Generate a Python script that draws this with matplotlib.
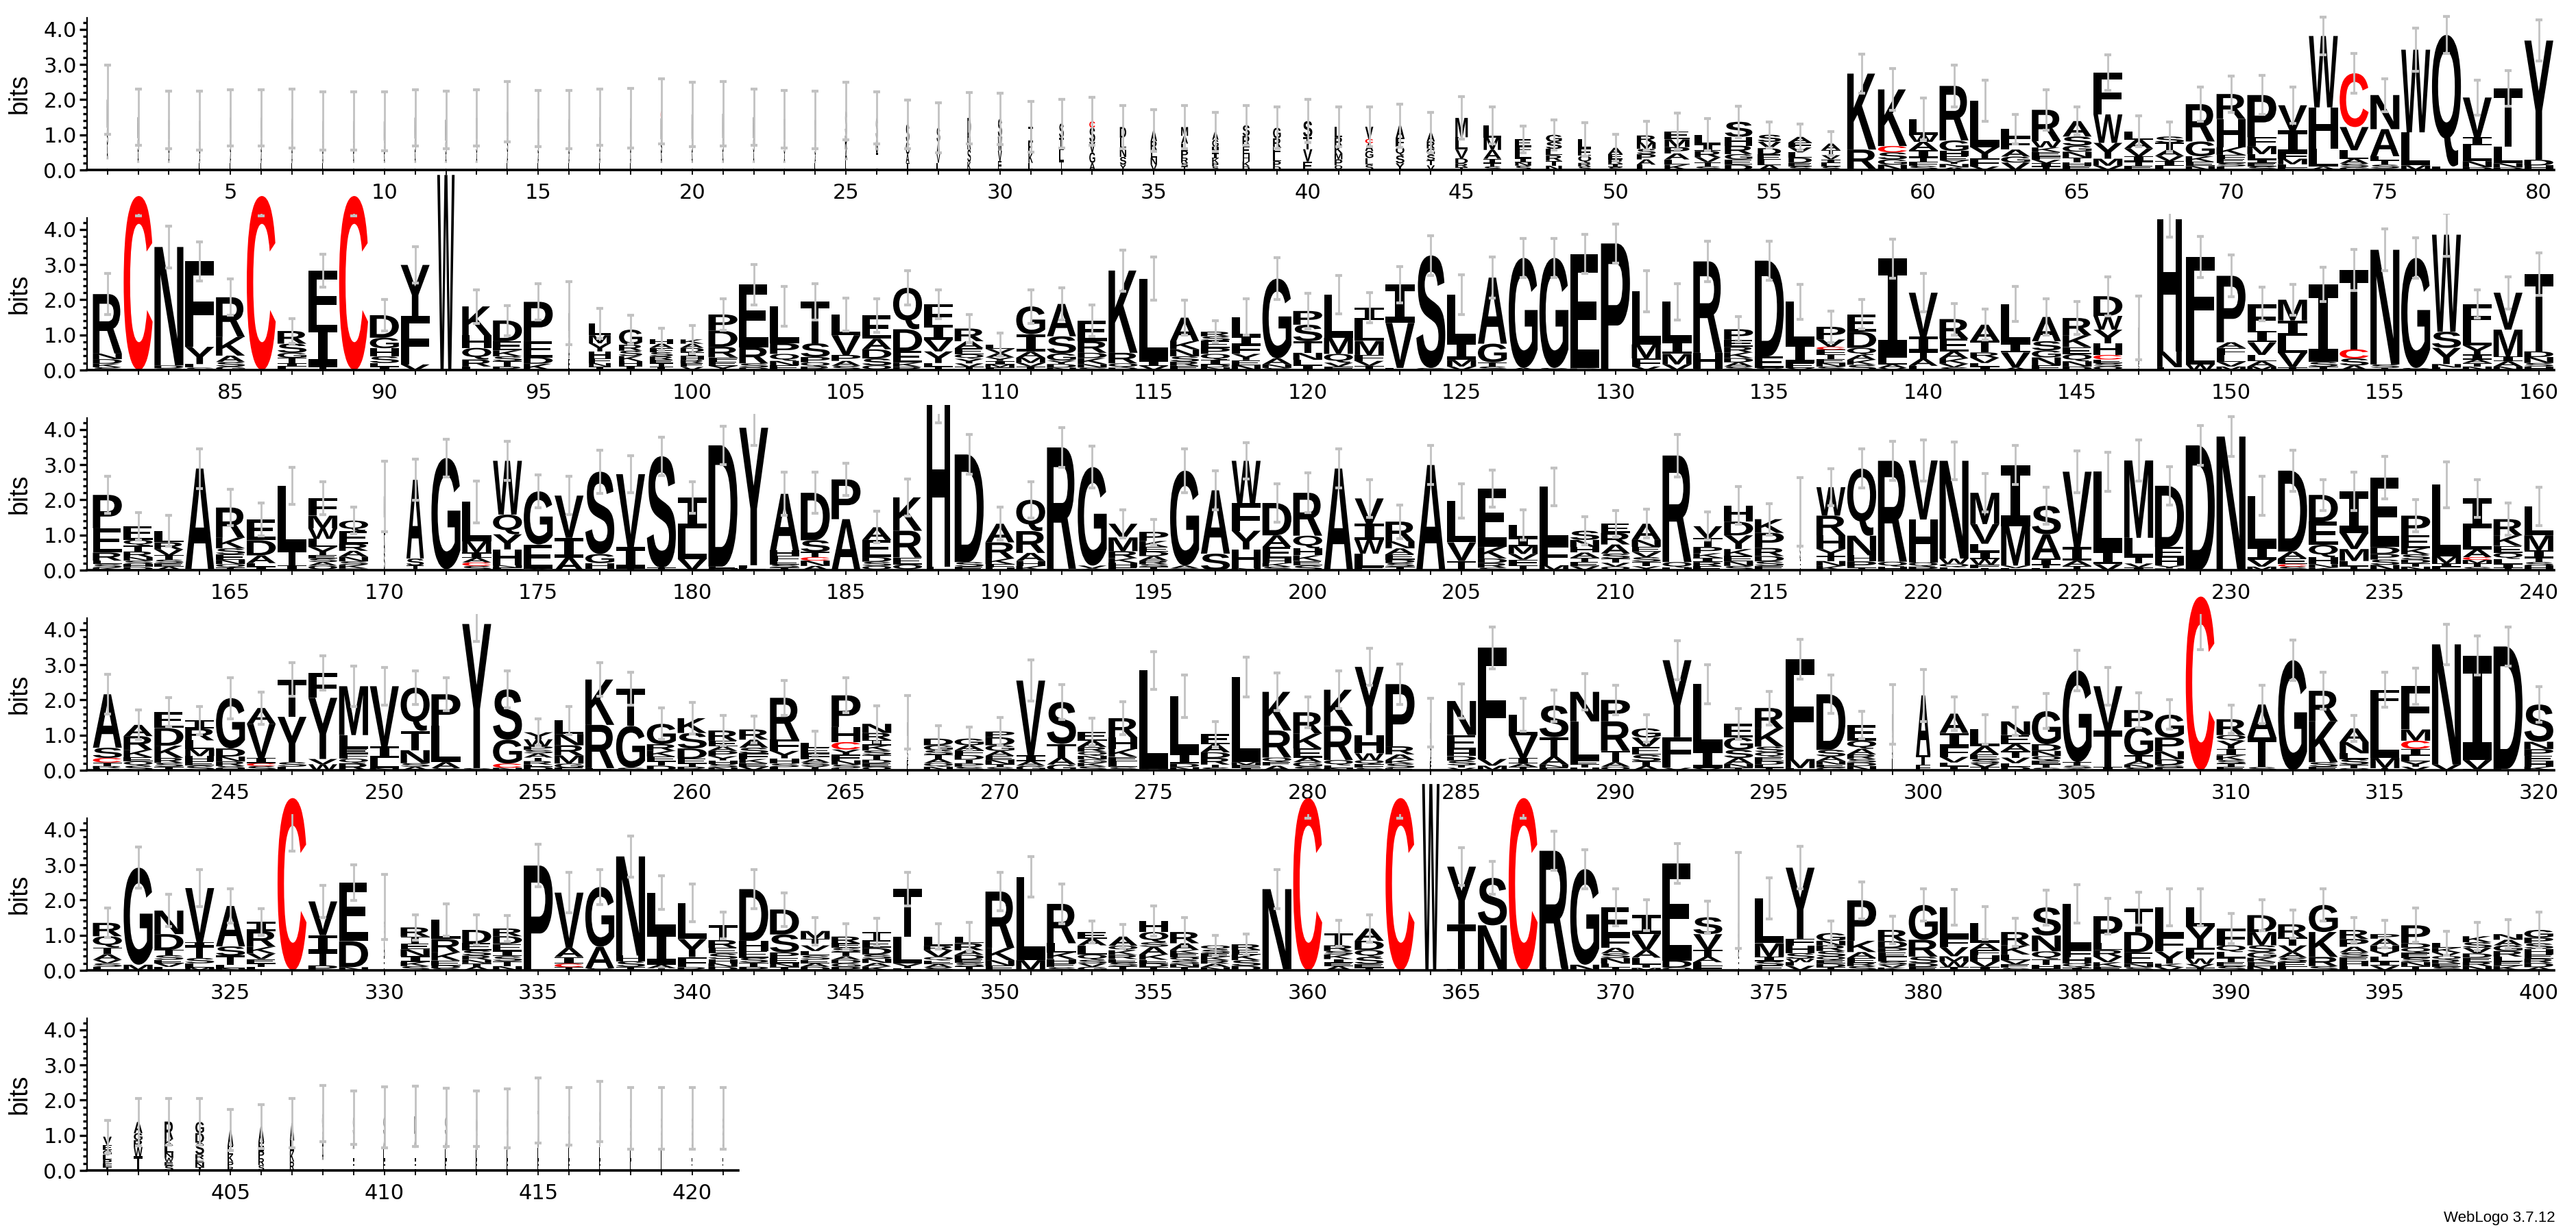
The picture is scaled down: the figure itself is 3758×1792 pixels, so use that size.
import matplotlib
matplotlib.use("Agg")
import matplotlib.pyplot as plt
from matplotlib.textpath import TextPath
from matplotlib.patches import PathPatch
from matplotlib.font_manager import FontProperties
from matplotlib.transforms import Affine2D
from matplotlib.ticker import FixedLocator, FixedFormatter

# Each stack: letters from top to bottom with their heights in bits.
STACKS_1 = [
"M.8 S.5 A.4 L.3", "M.6 S.4 A.3 L.2", "M.55 S.4 A.27 L.2", "M.55 S.4 A.25 L.2", "M.6 S.4 A.29 L.2",
"M.6 S.4 A.29 L.2", "M.6 S.4 A.26 L.2", "M.55 S.4 A.24 L.2", "M.55 S.4 A.24 L.2", "M.55 S.4 A.23 L.2",
"M.6 S.4 A.29 L.2", "M.6 S.4 A.23 L.2", "M.6 S.4 A.28 L.2", "M.7 S.45 A.3 L.2", "M.6 S.4 A.26 L.2",
"M.6 S.4 A.24 L.2", "M.6 S.4 A.3 L.2", "M.6 S.4 A.27 L.2", "C.2 M.6 S.4 A.27 L.2", "M.7 S.4 A.28 L.2",
"M.7 S.4 A.3 L.2", "M.6 S.4 A.3 L.2", "M.6 S.4 A.25 L.2", "M.6 S.4 A.22 L.2", "S.7 R.4 A.3 L.28",
"S.6 G.4 T.28 L.2", "S.5 G.35 A.25 T.2", "S.4 A.35 V.25 L.2", "D.5 R.4 S.35 K.23", "S.5 W.4 V.3 E.25",
"T.4 E.35 K.28 L.2", "S.4 I.35 L.32 T.25", "C.18 S.4 V.3 G.3 A.2", "D.3 L.3 N.25 S.22 Y.15", "A.3 R.25 L.22 N.2 V.15",
"M.25 A.22 L.2 P.2 R.15 S.1 T.1", "A.22 G.2 H.18 I.15 K.13 P.1 S.1", "S.3 R.28 E.25 H.2 K.14 D.1",
"G.3 R.25 F.22 L.18 P.15 D.1", "S.45 T.35 V.35 E.24",
"L.3 R.25 K.2 M.18 P.17 Q.13", "V.35 C.12 A.22 G.2 L.19 S.15", "A.35 F.25 Q.25 S.22 Y.19",
"A.25 R.2 G.18 S.16 T.14 V.13", "M.55 L.35 V.25 D.15 R.1 T.08", "L.35 M.35 A.25 I.12 T.1 S.1",
"E.2 F.18 L.15 I.12 N.1 S.12", "G.2 S.2 L.18 R.16 T.14 N.12", "L.25 E.22 Q.2 R.1 S.1", "A.18 E.15 R.12 I.1 S.08",
"R.2 M.18 S.15 P.15 A.15 L.15", "E.23 M.22 P.18 A.17 L.15 K.15", "L.26 I.2 R.18 V.14 T.12 S.1",
"S.43 H.25 R.24 G.15 E.15 D.15", "S.2 V.18 D.18 E.15 L.15 A.14", "A.16 F.14 V.14 L.15 D.15 E.1 S.1",
"A.18 T.15 V.12 I.1 L.1 S.1", "K2.16 R.55 S.03", "K1.61 C.18 S.2 G.15 N.15", "L.45 W.2 A.24 I.2 T.12 F.12 S.12",
"R1.55 G.3 H.15 E.12 Y.1 N.1 A.07", "L1.32 Y.32 F.23 V.1", "L.23 F.35 A.2 G.17 V.21",
"R.89 W.18 K.13 E.12 F.1 V.1 I.1 T.09", "A.44 S.26 G.17 N.17 T.13 H.1 E.12", "F1.19 W.81 Y.45 M.2 V.12",
"L.24 A.25 V.22 I.15 T.12 E.12", "S.18 T.2 A.17 V.15 I.13 L.12", "R1.06 G.42 K.16 E.12 N.11",
"R.71 H.8 K.22 F.12 E.11 S.1 L.1", "P1.2 F.25 M.23 L.15 I.1 E.1 S.1", "V.71 I.65 F.16 M.16 L.1 E.06",
"W2.03 H1.17 L.52 A.09", "C1.53 V.66 L.24 A.14 S.1 G.08", "N.97 A.77 L.12 T.12 S.1 G.05",
"W2.35 L.94 M.13", "Q3.74 L.1", "V1.13 I.23 L.45 N.17 D.08", "T1.65 L.48 N.12 D.07", "Y3.39 D.16 H.13",
]
STACKS_2 = [
"R1.69 N.16 D.13 K.1 S.08", "C4.95", "N3.37 D.08 S.05", "F2.43 Y.49 L.1 S.07", "R1.13 K.53 A.18 S.13 G.1",
"C4.95", "R.36 S.26 G.14 T.15 I.1 L.1", "F1.55 I1.18 T.1", "C4.95", "D.64 G.3 H.23 S.19 L.1 I.1",
"Y1.45 F1.38 V.16", "W5.55", "K.82 H.36 Q.33 R.2 L.1", "D.59 E.26 K.17 S.14 T.15 R.1", "P1.12 E.46 D.18 K.18",
"L.5 S.4 A.4 E.32", "L.33 M.23 Y.23 H.2 F.13 N.1 I.1", "G.43 R.17 S.15 K.15 H.13 I.12",
"H.12 A.12 F.12 S.12 R.1 E.1 T.1 I.09", "K.12 A.12 D.12 I.12 H.1 R.1 E.1 V.09",
"P.46 D.46 R.3 F.12 E.12 Y.12", "E1.78 R.46 S.12 D.07", "L1.05 P.3 Q.2 N.13 E.13", "T1.18 S.39 P.15 Q.12 R.1",
"L.59 V.56 P.17 A.14 S.12", "E.66 A.3 D.26 S.2 Q.13", "Q1.18 D.62 E.33 K.12 R.09", "F.59 I.43 V.33 Y.33 L.1 T.1",
"R.36 A.2 E.17 Q.13 Y.13 V.1 T.09", "L.12 V.12 A.12 Y.1 I.1 M.08 F.08",
"G.79 I.5 A.17 M.15 V.1 T.1", "A.92 S.49 G.2 Y.1 D.1 N.07", "E.59 R.33 D.15 K.17 N.1 S.07", "K2.34 R.3 Q.12 D.07",
"L2.34 I.14 V.12", "A.67 K.23 N.2 S.15 R.12 E.12", "R.13 S.13 E.2 P.17 Q.17 I.13 D.08 N.08",
"L.56 I.23 F.26 Y.18 E.14 N.14", "G2.27 A.17 N.1 S.06", "P.39 S.47 T.33 N.2 L.15 I.14",
"L1.22 M.46 Q.25 V.11 F.1", "I.36 L.59 M.4 F.17 V.14 T.12", "I1.09 V1.28 L.06", "S3.2 G.06", "L1.32 I.53 M.19 V.1",
"A1.88 G.53 T.12 S.1", "G3.13 A.06", "G3.13 S.06", "E3.25 D.05", "P3.6",
"L1.51 M.4 F.23 V.1", "L1.12 I.36 M.3 V.16", "R2.6 H.45 Q.04", "P.3 E.2 R.16 K.16 D.12 A.12 S.1", "D2.72 E.33 S.06",
"L1.18 I.56 E.14 V.06", "P.36 V.21 C.08 F.14 T.12 E.12 N.1 S.1", "E.49 D.46 Q.2 A.14 K.14 S.15",
"I2.81 L.2 A.1 V.06", "V1.25 I.43 T.2 A.2 L.12",
"R.56 E.36 A.2 K.15 V.1 S.08", "A.46 T.33 R.15 V.15 L.1 I.1", "L1.12 I.26 V.43 A.07", "A.69 S.26 G.2 N.23 E.13",
"R.49 K.34 E.2 Q.2 N.15 D.1", "D.56 W.39 Y.39 H.33 C.13 E.1 S.1 Q.1", "L.4 E.35 N.25 S.2", "H3.75 N.45 L.08",
"F2.4 L.66 W.16", "P1.89 A.16 F.2 L.2 V.13 M.1",
"F.76 I.33 V.36 L.18 A.15 M.1", "M.59 I.43 L.49 V.41 T.08", "I2.2 S.13 T.1", "T2.26 C.26 S.2 A.13", "N3.26 S.1 T.06",
"G3.13 S.06", "W2.76 S.46 Y.46 N.1 L.07", "F.72 L.46 Y.26 I.14 A.1 T.1 N.1", "V1.05 M.76 I.14 A.15 N.1",
"T2.2 D.16 N.17 S.1 H.1",
]
STACKS_3 = [
"P.95 E.69 R.23 L.1 S.1 K.07", "E.39 Q.16 T.17 R.16 N.1 S.1 H.08 D.09", "L.33 R.2 V.17 T.12 S.1 E.1 A.1", "A2.86 S.03",
"R.86 K.3 S.17 E.16 N.12 Q.1 T.07", "E.6 D.43 A.22 L.1 I.1", "L1.81 T.46 I.13", "F.49 M.36 W.3 L.23 Y.23 E.1 S.1 A.1 Q.13",
"Q.3 E.36 R.2 A.17 N.13 S.1 K.1 D.05", "M.6 L.5 A.5 S.5",
"A2.24 S.2 T.13", "G3.16 A.03", "L1.12 M.32 I.15 A.13 C.1 S.12", "W1.53 Q.56 Y.43 H.45 N.07 F.07", "G1.51 E.69 A.04",
"V1.2 I.56 A.36", "S2.34 G.26 H.16 A.04", "V2.07 I.62 T.04", "S3.17 T.07", "I.89 L.86 V.32",
"D3.45 E.06 N.04", "Y3.91 F.08 E.06", "A1.61 H.15 F.15 E.1 S.08 T.08", "D1.35 S.33 T.15 C.1 N.15 A.12", "P1.13 A1.45",
"A.36 E.49 D.13 S.12 Q.12", "K.95 R.76 E.2 Q.16", "H4.6 F.05 L.05", "D3.06 S.13 E.1", "A.53 R.46 K.16 F.1 H.07",
"Q.89 R.62 A.23 H.14 K.12", "R3.45 L.04", "G2.8 V.08 A.05", "V.39 M.39 R.2 K.13 H.13 E.08",
"P.26 K.17 E.13 D.13 A.13 R.1 S.08 T.09", "G2.7 A.08 S.05", "A1.8 S.47", "W1.2 F.79 Y.53 H.53 N.06",
"D.92 A.33 E.33 H.13 K.1 S.1", "R1.22 Q.36 H.2 K.16 E.13 S.13",
"A2.89", "V.72 I.46 W.39 L.39 E.08", "R.56 N.2 A.17 E.15 D.1 S.1 T.1", "A2.99", "L1.18 V.53 T.23 I.03",
"E1.66 K.33 D.13 R.13 S.07", "L.36 I.23 M.23 V.16 F.16 T.14", "L1.64 F.59 M.14", "S.26 N.2 H.16 A.15 T.12 E.12 V.11",
"E.26 R.33 A.26 S.14 T.12 V.11 Q.1",
"A.46 N.2 E.14 V.15 S.13 T.13 Y.11", "R3.03 Q.16 H.07", "V.33 T.26 P.18 K.13 I.12 R.12 E.11",
"H.46 D.39 Y.39 K.2 E.15 N.13 S.12", "K.39 P.43 R.23 D.15 S.13 E.12", "L.5 A.45 S.4 E.31",
"W.81 R.56 H.39 Y.2 T.14 N.14 K.12", "Q1.91 N.56 H.17 P.17 T.08", "R2.87 Q.14 H.1", "V1.68 H1.22 Q.12 P.1",
"N2.78 W.15 Q.1 L.08", "M.89 V.56 L.23 I.2 W.16 F.1 T.06", "I1.74 M1.12 V.07 L.06", "S.81 A.69 I.18 T.1 L.05",
"V2.14 I.39 A.15 T.12", "L2.24 I.39 V.17", "M2.2 L.53 T.2 V.11 I.08", "D1.74 E.3 H.23 Y.08 N.05", "D3.55", "N3.77 H.03",
"L1.45 I.36 V.2 M.1", "D2.3 A.2 E.16 C.07 S.1", "D.76 E.66 Q.35 H.2 N.1 K.07", "I1.18 V.46 M.34 L.14 T.12",
"E1.97 D.2 P.16 S.15 N.15", "P.56 E.36 K.18 S.15 D.1 T.1 N.1", "L2.04 M.2 I.1 F.09", "I.86 L.59 A.22 C.08 M.1 T.1 S.09",
"R.46 K.3 E.2 Q.17 L.15 I.1 T.07", "L.82 M.43 I.2 T.13 S.1 H.13",
]
STACKS_4 = [
"A1.52 S.29 C.13 T.1 R.06 E.06", "A.32 R.39 K.21 E.12 Q.12 S.13", "E.46 D.5 K.35 R.14 S.11 T.1",
"I.23 R.34 L.24 M.21 H.15 E.12 S.13", "G1.43 D.23 N.14 R.13 S.07 H.05", "A.45 V.97 I.15 C.08 S.12",
"T1.06 Y1.29 S.13 L.1", "F.71 Y1.74 V.15 W.17", "M1.39 L.39 E.13 F.15 Q.13 R.2", "V1.71 I.32 L.3 N.06",
"Q1.23 T.55 N.37 S.1 A.1", "P.9 L1.03 A.17 S.06", "Y4.1 S.06", "S1.43 G.68 C.12 N.07",
"Y.2 W.2 P.1 S.1 A.12 T.1 R.1 L.06 D.1", "L.39 N.32 R.29 M.23 G.12 E.07", "K1.29 R1.23 E.06", "T1.06 G1.19 S.07",
"G.58 R.19 K.16 E.13 T.13 D.13", "K.42 S.44 D.29 E.13 T.1 R.1",
"R.29 E.16 A.13 P.15 Y.12 H.1 S.1 N.08", "R.29 A.23 S.16 F.16 K.12 E.1 V.1", "R1.19 F.32 Y.21 H.15 S.1 L.09",
"L.13 E.16 F.16 A.1 S.1 Y.06 T.06", "P.9 H.43 C.21 Y.15 F.16 N.12 S.1 E.06", "N.26 R.2 I.15 K.15 S.13 T.13 D.1 E.1 Q.1",
"L.4 A.35 S.32 E.3", "D.19 G.14 S.13 T.12 A.12 Q.1 N.1", "G.19 A.14 F.14 D.13 T.1 P.1 S.1",
"P.16 D.23 G.16 A.14 E.12 N.12 T.08 S.09",
"V2.13 I.16 A.13 G.13", "S1.19 T.39 A.2 G.16", "E.26 A.18 R.13 Q.12 N.1 G.1 K.1 S.11", "R.55 H.32 K.23 E.13 L.16 S.09",
"L2.81 M.03", "L1.63 I.29 D.1 N.09", "E.29 A.23 D.16 R.19 T.08 S.08", "L2.42 M.08 F.08 I.07", "K1.1 R.77 Q.13 E.1 A.13",
"R.61 K.42 E.26 A.13 G.13 S.1",
"K1.03 R.97 Q.15 E.08 N.06", "Y1.94 H.52 W.19 Q.12 F.1 S.07", "P1.77 R.23 A.16 K.1 S.13 E.06", "L.45 S.35 A.3 E.25",
"N.97 E.42 H.18 D.13 S.13 T.07 V.07", "F3.16 V.19 M.13", "L.58 V.65 I.16 A.1 T.09", "S.9 T.55 A.23 N.08 E.08",
"N.84 L1.13 E.1 T.08 H.08", "P.61 R.84 T.32 A.13 Q.1",
"G.26 V.26 E.23 S.19 T.13 A.12", "Y2.19 F.77 L.1 V.07", "L1.87 I.52 V.06", "E.39 G.35 S.23 A.17 N.1 T.08",
"R.58 K.52 S.16 Q.13 E.12 D.1 L.08 T.08", "F2.84 M.26 L.06", "D1.58 S.19 A.13 N.1 E.08 G.08",
"E.45 Q.23 A.16 R.13 S.1 D.1 N.12", "L.45 S.4 A.4 E.34", "A1.71 T.26 F.16",
"A.55 I.39 F.29 V.16 L.1 T.12", "L.48 A.23 E.14 S.12 V.1 T.09", "N.39 E.26 A.2 T.18 V.16 L.1 D.1",
"G.94 D.19 N.15 Q.13 E.1 T.1 S.07", "G2.61 T.1 S.08 A.05", "V1.26 T1.03 I.1", "P.48 G.81 T.16 A.1 N.08 S.08",
"G.65 P.39 N.23 D.16 S.08 E.07", "C4.94", "R.45 Q.16 Y.23 I.19 K.13 S.1 T.09 E.1",
"A.94 T.84 S.09", "G3.13", "R.87 K1.16 S.13 E.1", "A.39 N.32 L.16 S.16 T.1 Q.06", "F.52 L1.42 M.29 T.06",
"F1.23 M.32 C.23 I.2 L.16 Y.15 V.1", "N3.42 V.16", "I2.97 V.26 L.03", "D3.48 E.04", "S1.06 N.21 P.19 E.16 H.15 K.1",
]
STACKS_5 = [
"R.38 Q.32 T.19 A.16 V.1 S.1 L.1", "G2.76 M.16", "N.67 D.45 T.15 S.13 E.1 V.1 L.1", "V1.54 I.1 T.35 S.15 L.12 M.08",
"A1.15 S.26 T.26 L.1 N.06", "I.26 R.45 K.19 V.16 E.12 T.1 L.1", "C4.9", "V.96 I.48 T.38 P.14", "E1.67 D.74 N.09",
"L.5 S.45 A.45 E.4",
"R.26 T.2 E.16 N.2 I.16 K.12 S.12", "L.55 R.38 K.23 E.14 D.08 S.06", "D.38 E.2 S.15 R.12 N.1 T.1 A.1",
"R.22 D.22 E.2 I.15 S.14 T.14 N.12", "P2.98", "V1.57 A.26 I.19 C.1 T.09", "G1.7 A.61 S.06", "N2.82 H.16 S.16 T.1",
"L1.09 I.96 A.1 T.06", "L1.03 Y.51 F.29 R.09",
"T.42 R.22 E.16 S.16 H.12 N.1 D.1", "D1.47 H.29 E.19 S.14 T.12 P.1", "D.71 S.51 P.16 E.15 N.1 T.1",
"M.22 T.19 V.16 L.13 S.12 E.1 A.1 D.1", "R.19 E.13 S.12 T.12 A.1 D.1 G.1 P.1", "T.24 E.22 D.19 S.12 N.12 A.1 K.11",
"T1.35 L.77 Y.13 F.06", "L.26 R.13 V.19 Q.1 E.1 A.1 S.08", "L.19 R.2 A.13 D.13 E.1 S.1 T.11", "R1.6 K.35 N.16 E.13",
"L2.37 M.29", "R1.12 L.26 K.19 H.13 E.1 S.09", "E.19 A.19 L.26 Q.15 S.1 V.1 G.1", "A.26 Q.13 K.13 R.12 E.1 S.1 T.12",
"H.32 Q.29 S.13 A.22 K.15 E.1 D.1 T.1", "R.32 A.19 K.1 E.1 Q.1 S.1 N.08 T.1", "Q.12 S.1 E.1 K.1 R.1 A.1 N.09",
"R.16 E.13 K.16 S.16 D.13", "N2.28 R.03", "C4.9",
"T.35 R.16 S.1 K.13 I.1 E.1 A.12", "A.35 D.26 Q.2 S.2 E.1 T.08", "C4.9", "W5.3", "Y1.64 T1.28 L.03",
"S1.35 N1.28", "C4.9", "R3.33 H.07", "G2.72 N.16", "E.83 F.32 A.16 S.13 N.16 L.1 T.09",
"I.54 V.45 A.22 L.19 T.1 M.07", "E2.76 D.2 Q.08", "S.48 V.45 T.19 A.16 L.1 F.13", "L.6 S.5 A.5 E.39",
"L1.28 M.38 I.13 S.13 E.13", "Y2.02 F.19 H.22 S.16 W.1 L.1 V.13", "G.22 N.13 R.16 S.16 Q.1 E.1 D.1 T.09",
"P1.15 K.32 A.17 E.13 R.1 S.12", "R.32 D.19 P.13 E.13 L.12 S.1 V.08 K.08", "G.99 R.48 S.19 D.1 E.1",
"L.87 F.26 V.26 M.15 W.15 T.1", "L.58 A.19 F.16 H.16 V.16 I.1", "R.38 K.26 L.16 V.12 E.1 S.07",
"S.8 N.45 Q.22 T.17 H.1 I.05", "L1.31 F.21 H.17 Q.12 I.08", "P.77 L.19 R.19 V.16 K.13 E.1", "T.67 D.58 E.32 N.1 S.09",
"L.83 F.42 Y.35 K.1 V.09", "L.54 Y.61 F.3 W.16 V.1 T.08", "F.48 Q.19 L.16 T.12 E.12 S.12",
"D.48 M.38 S.19 G.16 K.12 E.12 N.12", "R.38 T.22 V.19 A.16 S.13 E.13 L.1", "G.77 K.71 R.26 S.12",
"R.26 P.22 A.16 S.13 E.13 H.13 L.12", "P.13 A.19 H.16 Y.16 L.13 I.13 V.13", "P.51 D.13 Q.14 E.14 S.12 N.12 T.12",
"L.13 K.13 V.1 Q.11 R.1 E.1 S.1", "K.17 S.16 V.16 D.12 E.12 R.12 N.12", "N.16 A.16 G.16 R.16 L.13 E.13 K.13",
"G.22 P.16 S.16 H.16 E.12 R.12 D.12 A.09",
]
STACKS_6 = [
"V.23 E.15 G.14 L.13 P.12 F.1 T.09", "A.32 G.2 R.2 W.26 T.4", "R.5 K.18 L.2 N.15 W.12 E.1 S.14",
"G.32 D.27 S.33 R.14 E.1 N.12 T.1", "A.45 E.25 K.2 P.15 R.1", "A.45 E.25 P.2 R.2 S.15", "A.5 L.3 K.3 R.25",
"Q.5 S.45 A.36 L.3", "S.5 A.4 L.31 E.3", "S.5 A.4 L.31 E.3", "D.5 A.4 L.34 E.3", "S.5 A.4 L.31 E.3",
"Q.5 A.4 L.28 E.3", "S.5 A.4 L.28 E.3", "T.6 A.45 L.35 E.3", "D.5 A.4 L.34 E.3", "S.55 A.45 L.37 E.3",
"S.5 A.4 L.28 E.3", "S.5 A.4 L.28 E.3", "S.5 A.4 L.28 E.3", "S.5 A.4 L.28 E.3",
]

# Error bar half-lengths (bits)
ERR_1 = [.98, .8, .82, .84, .8, .8, .84, .83, .83, .84, .8, .82, .8, .86, .8, .83, .8, .84, .92, .92,
         .92, .8, .82, .82, .82, .74, .69, .72, .73, .73, .72, .69, .68, .62, .6, .61, .55, .57, .6, .61,
         .57, .56, .62, .57, .6, .53, .38, .43, .48, .38, .41, .51, .46, .45, .37, .37, .35, .55, .6, .59,
         .59, .58, .41, .57, .4, .5, .44, .42, .48, .52, .56, .52, .53, .56, .47, .61, .52, .5, .51, .59]
ERR_2 = [.58, .56, .6, .56, .52, .56, .35, .47, .56, .44, .51, .6, .48, .43, .52, .9, .43, .4, .31, .4,
         .44, .57, .56, .51, .46, .47, .49, .41, .4, .33, .48, .46, .45, .58, .61, .49, .32, .51, .6, .51,
         .55, .43, .52, .57, .56, .58, .56, .55, .56, .56, .58, .52, .58, .37, .56, .5, .45, .42, .56, .55,
         .45, .44, .5, .52, .47, .56, .9, .5, .58, .6, .48, .44, .49, .58, .59, .58, .61, .4, .46, .61]
ERR_3 = [.53, .39, .43, .57, .52, .47, .53, .47, .38, 1.0, .59, .54, .59, .56, .47, .55, .61, .53, .55, .45,
         .55, .5, .62, .58, .46, .45, .53, .5, .56, .47, .52, .56, .6, .4, .36, .62, .56, .52, .54, .56,
         .56, .54, .48, .56, .48, .53, .43, .54, .4, .38, .41, .6, .4, .53, .45, .98, .53, .56, .56, .58,
         .54, .55, .55, .53, .6, .55, .59, .55, .56, .56, .56, .59, .44, .55, .6, .46, .65, .53, .46, .55]
ERR_4 = [.56, .42, .41, .4, .58, .46, .48, .49, .58, .53, .48, .47, .5, .52, .38, .4, .48, .46, .45, .45,
         .43, .38, .5, .35, .5, .52, .76, .36, .33, .4, .58, .49, .39, .46, .54, .6, .36, .56, .53, .44,
         .53, .53, .57, .69, .48, .6, .46, .45, .52, .42, .39, .55, .55, .44, .48, .57, .55, .39, .84, .74,
         .48, .42, .4, .5, .58, .54, .5, .42, 1.5, .4, .55, .57, .53, .37, .5, .51, .57, .56, .55, .5]
ERR_5 = [.42, .58, .46, .53, .48, .38, 1.5, .46, .51, .92, .36, .46, .42, .37, .61, .58, .5, .58, .48, .53,
         .38, .56, .48, .39, .36, .39, .48, .36, .4, .55, .58, .56, .32, .34, .43, .41, .29, .3, .56, .57,
         .37, .39, .57, .5, .54, .47, .57, .55, .56, .52, .43, .56, .45, 1.36, .58, .61, .35, .53, .39, .46,
         .51, .47, .4, .5, .55, .5, .47, .52, .52, .43, .43, .4, .45, .36, .39, .49, .35, .4, .41, .51]
ERR_6 = [.47, .67, .66, .66, .59, .63, .7, .8, .76, .86, .85, .83, .79, .84, .93, .82, .86, .88, .88, .88, .88]

# Stack widths (fraction of a column) where sequences are mostly gaps; others are 1.0
NARROW_WIDTHS = {
    1: .04, 2: .04, 3: .04, 4: .04, 5: .04, 6: .04, 7: .04, 8: .04, 9: .04, 10: .04, 11: .04, 12: .04,
    13: .04, 14: .04, 15: .04, 16: .04, 17: .04, 18: .04, 19: .05, 20: .04, 21: .04, 22: .04, 23: .04, 24: .04,
    25: .07, 26: .07, 27: .12, 28: .12, 29: .12, 30: .14, 31: .15, 32: .16, 33: .2, 34: .22, 35: .22, 36: .24,
    37: .22, 38: .25, 39: .27, 40: .32, 41: .27, 42: .28, 43: .3, 44: .28, 45: .43, 46: .6, 47: .55, 48: .55,
    49: .45, 50: .5, 51: .65, 52: .86, 53: .9, 54: .95, 55: .8, 56: .8, 57: .65,
    92: .6, 96: .04, 97: .75, 98: .8, 99: .8, 100: .8, 147: .04, 148: .85,
    170: .04, 171: .6, 188: .8, 216: .03,
    267: .03, 284: .04, 299: .03, 300: .5,
    330: .03, 364: .6, 374: .03,
    401: .3, 402: .3, 403: .3, 404: .3, 405: .2, 406: .2, 407: .15, 408: .05, 409: .05, 410: .06, 411: .05,
    412: .05, 413: .05, 414: .04, 415: .04, 416: .04, 417: .03, 418: .03, 419: .03, 420: .03, 421: .03,
}

ROW_STARTS = [1, 81, 161, 241, 321, 401]
ROWS = [STACKS_1, STACKS_2, STACKS_3, STACKS_4, STACKS_5, STACKS_6]
ERRS = [ERR_1, ERR_2, ERR_3, ERR_4, ERR_5, ERR_6]
Y_TICKS = [0, 1, 2, 3, 4]
Y_TICK_LABELS = ["0.0", "1.0", "2.0", "3.0", "4.0"]

# ---------------- layout ----------------
W, H = 3758, 1792
fig = plt.figure(figsize=(W / 100, H / 100), dpi=100)
fig.patch.set_facecolor("white")

PX_BIT = 51.3
PX_POS = 44.9
YTOP = 4.45
AX_LEFT = 127
BASE0 = 248
ROW_STEP = 292

TICK_FONT = ["Liberation Sans Narrow", "DejaVu Sans"]
fp_letter = FontProperties(family="Liberation Sans", weight="bold")
fp_i = FontProperties(family="DejaVu Sans Mono", weight="bold")
_cache = {}


def glyph(ch):
    if ch not in _cache:
        tp = TextPath((0, 0), ch, size=100, prop=fp_i if ch == "I" else fp_letter)
        _cache[ch] = (tp, tp.get_extents())
    return _cache[ch]


def draw_letter(ax, ch, xc, y0, w, h):
    if h <= 0:
        return
    tp, bb = glyph(ch)
    tr = (Affine2D().translate(-bb.x0, -bb.y0).scale(w / bb.width, h / bb.height)
          .translate(xc - w / 2, y0) + ax.transData)
    col = "#ff0000" if ch == "C" else "#000000"
    ax.add_patch(PathPatch(tp, transform=tr, facecolor=col, edgecolor="none", lw=0, clip_on=False, zorder=2))


for r, (start, stacks, errs) in enumerate(zip(ROW_STARTS, ROWS, ERRS)):
    n = len(stacks)
    baseline = BASE0 + ROW_STEP * r
    x0 = start - 0.66
    x1 = start + n - 0.5
    wpx = (x1 - x0) * PX_POS
    hpx = YTOP * PX_BIT
    ax = fig.add_axes([AX_LEFT / W, 1 - baseline / H, wpx / W, hpx / H])
    ax.set_autoscale_on(False)
    ax.set_xlim(x0, x1)
    ax.set_ylim(0, YTOP)
    ax.patch.set_alpha(0)

    xs, tops = [], []
    for i, spec in enumerate(stacks):
        pos = start + i
        width = NARROW_WIDTHS.get(pos, 1.0) * 0.94
        items = [(t[0], float(t[1:])) for t in spec.split()]
        y = 0.0
        for ch, h in reversed(items):
            draw_letter(ax, ch, pos, y, width, h)
            y += h
        xs.append(pos)
        tops.append(y)

    ax.errorbar(xs, tops, yerr=errs, fmt="none", ecolor="#c2c2c2", elinewidth=2.0,
                capsize=3.5, capthick=3.0, zorder=5)

    for s in ("top", "right"):
        ax.spines[s].set_visible(False)
    ax.spines["left"].set_bounds(0, 4.32)
    ax.spines["left"].set_linewidth(1.6)
    ax.spines["bottom"].set_linewidth(2.6)

    ax.yaxis.set_major_locator(FixedLocator(Y_TICKS))
    ax.yaxis.set_major_formatter(FixedFormatter(Y_TICK_LABELS))
    ax.yaxis.set_minor_locator(FixedLocator([k / 5 for k in range(0, 22)]))
    ax.tick_params(axis="y", which="major", direction="out", length=8, width=2.4, pad=3, labelsize=22)
    ax.tick_params(axis="y", which="minor", direction="out", length=4, width=2.4)

    majors = [p for p in range(start, start + n) if p % 5 == 0]
    ax.xaxis.set_major_locator(FixedLocator(majors))
    ax.xaxis.set_major_formatter(FixedFormatter([str(p) for p in majors]))
    ax.xaxis.set_minor_locator(FixedLocator(list(range(start, start + n))))
    ax.tick_params(axis="x", which="both", direction="out", length=5, width=1.3, pad=9, labelsize=22)
    for lab in ax.get_xticklabels() + ax.get_yticklabels():
        lab.set_family(TICK_FONT)

    fig.text(29 / W, 1 - (baseline - 2.16 * PX_BIT) / H, "bits", rotation=90, ha="center", va="center",
             fontsize=27, family="Liberation Sans")

fig.text(3728 / W, 1 - 1783 / H, "WebLogo 3.7.12", ha="right", va="baseline", fontsize=16,
         family="Liberation Sans")

fig.savefig("out.png", dpi=100, facecolor="white")
